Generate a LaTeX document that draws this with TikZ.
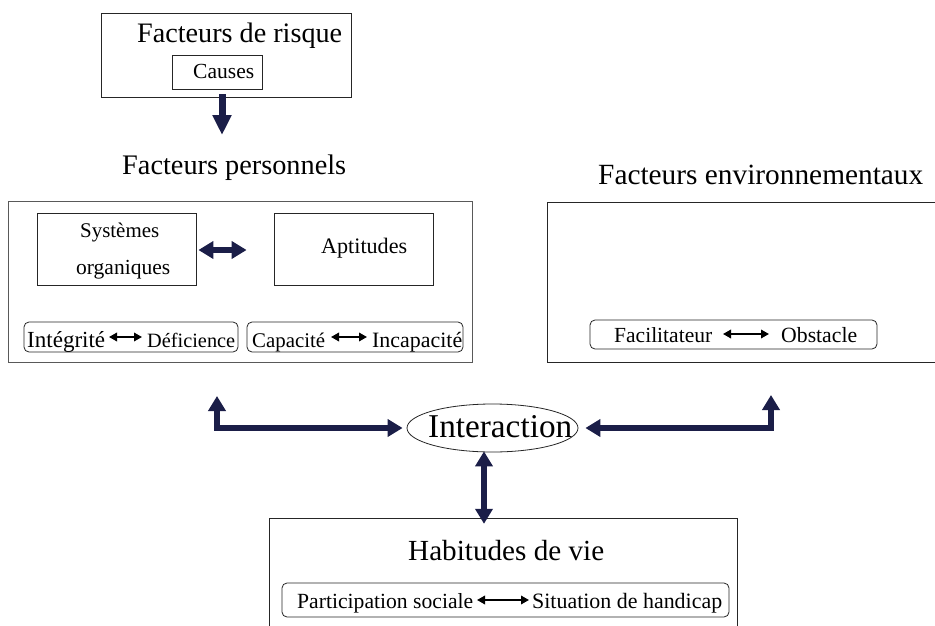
\documentclass[tikz,border=0pt]{standalone}
\usepackage{fontspec}
\setmainfont{Liberation Serif}
\usepackage{graphicx}
\usetikzlibrary{arrows.meta,shapes.geometric,calc}
\definecolor{navy}{RGB}{27,30,72}
\newcommand{\fitto}[2]{\resizebox{#1pt}{!}{\fontsize{20}{24}\selectfont #2}}
\begin{document}
\begin{tikzpicture}[x=1pt,y=-1pt,
  box/.style={draw=black!85,line width=0.8pt,inner sep=0pt,rectangle},
  openbox/.style={draw=none,inner sep=0pt,rectangle},
  edge/.style={draw=black!85,line width=0.8pt},
  rbox/.style={draw=black!85,line width=0.8pt,rounded corners=5pt,inner sep=0pt,rectangle},
  lbl/.style={anchor=base west,inner sep=0pt},
  bigtwo/.style={draw=navy,line width=6.5pt,line join=miter,
    {Triangle[length=15pt,width=17pt]}-{Triangle[length=15pt,width=17pt]}},
  bigone/.style={draw=navy,line width=7pt,-{Triangle[length=20pt,width=18pt]}},
  smalltwo/.style={draw=black,line width=1.8pt,
    {Triangle[length=8pt,width=8.5pt]}-{Triangle[length=8pt,width=8.5pt]}}]
\useasboundingbox (0,0) rectangle (935,626);
\fill[white] (0,0) rectangle (935,626);

% Facteurs de risque
\node[box,minimum width=250pt,minimum height=84pt] (risk) at (226,55) {};
\node[lbl] (risktxt) at (137,43) {\fitto{205}{Facteurs de risque}};
\node[box,minimum width=90pt,minimum height=34pt] (causes) at (217,72) {};
\node[lbl] (causestxt) at (193,78) {\fitto{61}{Causes}};
\coordinate (riskend) at (222,135);
\draw[bigone] ([xshift=-4pt,yshift=3pt]risk.south) -- (riskend);

% Facteurs personnels
\node[lbl] (perstitle) at (122,174) {\fitto{224}{Facteurs personnels}};
\node[box,draw=black!65,minimum width=464pt,minimum height=161pt] (pers) at (240,281.5) {};
\node[box,minimum width=159pt,minimum height=72pt] (sys) at (116.5,249) {};
\node[box,minimum width=159pt,minimum height=72pt] (apt) at (353.5,249) {};
\node[lbl] (systxt) at (80,237) {\fitto{79}{Systèmes}};
\node[lbl] (orgtxt) at (76,274) {\fitto{94}{organiques}};
\node[lbl] (apttxt) at (321,253) {\fitto{86}{Aptitudes}};
\draw[bigtwo] ([xshift=2pt,yshift=-1pt]sys.east) -- ([xshift=-27pt,yshift=-1pt]apt.west);

\node[rbox,minimum width=214pt,minimum height=30pt] (r1) at (131,337) {};
\node[lbl] (integ) at (27,347) {\fitto{78}{Intégrité}};
\node[lbl] (defic) at (147,347) {\fitto{88}{Déficience}};
\coordinate (r1a) at (109,337);
\coordinate (r1b) at (142,337);
\draw[smalltwo] (r1a) -- (r1b);

\node[rbox,minimum width=216pt,minimum height=30pt] (r2) at (355,337) {};
\node[lbl] (capa) at (252,347) {\fitto{73}{Capacité}};
\node[lbl] (incapa) at (372,347) {\fitto{90}{Incapacité}};
\coordinate (r2a) at (331,337);
\coordinate (r2b) at (367,337);
\draw[smalltwo] (r2a) -- (r2b);

% Facteurs environnementaux
\node[lbl] (envtitle) at (598,184) {\fitto{325}{Facteurs environnementaux}};
\node[openbox,minimum width=387pt,minimum height=159pt] (env) at (741.5,282.5) {};
\draw[edge] (env.north east) -- (env.north west) -- (env.south west) -- (env.south east);
\node[rbox,minimum width=287pt,minimum height=29pt] (r3) at (733.5,334.5) {};
\node[lbl] (facil) at (614,342) {\fitto{98}{Facilitateur}};
\node[lbl] (obst) at (781,342) {\fitto{76}{Obstacle}};
\coordinate (r3a) at (723,334);
\coordinate (r3b) at (769,334);
\draw[smalltwo] (r3a) -- (r3b);

% Interaction
\node[ellipse,draw=black!85,line width=0.8pt,minimum width=171pt,minimum height=48pt,inner sep=0pt] (inter) at (492.5,428) {};
\node[lbl] (intertxt) at (428,437) {\fitto{144}{Interaction}};
\coordinate (pl) at (217,396);
\coordinate (el) at (771,395);
\draw[bigtwo] (pl) |- ([xshift=-4pt]inter.west);
\draw[bigtwo] ([xshift=7pt]inter.east) -| (el);

% Habitudes de vie
\node[openbox,minimum width=467pt,minimum height=107pt] (hab) at (503.5,572.5) {};
\draw[edge] (hab.south west) -- (hab.north west) -- (hab.north east) -- (hab.south east);
\draw[bigtwo] ([xshift=-8.5pt,yshift=1pt]inter.south) -- ([xshift=-19.5pt,yshift=-5pt]hab.north);
\node[lbl] (habtxt) at (408,560) {\fitto{196}{Habitudes de vie}};
\node[rbox,minimum width=447pt,minimum height=34pt] (r4) at (505.5,600) {};
\node[lbl] (partic) at (297,608) {\fitto{176}{Participation sociale}};
\node[lbl] (situ) at (532,608) {\fitto{190}{Situation de handicap}};
\coordinate (r4a) at (477,600);
\coordinate (r4b) at (529,600);
\draw[smalltwo] (r4a) -- (r4b);
\end{tikzpicture}
\end{document}
